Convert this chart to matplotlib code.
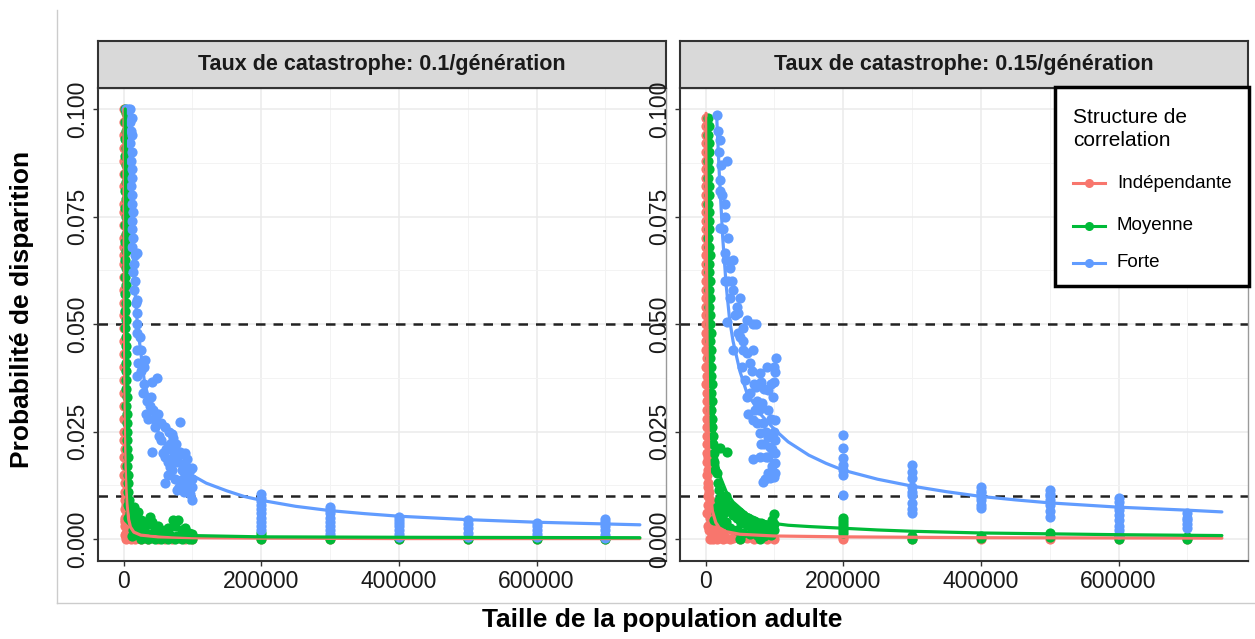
import numpy as np
import matplotlib.pyplot as plt
from matplotlib.lines import Line2D
from matplotlib.patches import Rectangle

plt.rcParams['font.family'] = ['Liberation Sans', 'DejaVu Sans']

# ---------------------------------------------------------------------------
# Données : probabilité de disparition vs taille de la population adulte
# ---------------------------------------------------------------------------
groups = ['Indépendante', 'Moyenne', 'Forte']
colors = ['#F8766D', '#00BA38', '#619CFF']
rates = ['0.1', '0.15']
col_x = [200000, 300000, 400000, 500000, 600000, 700000]

x_ticks = [0, 200000, 400000, 600000]
y_ticks = [0.0, 0.025, 0.05, 0.075, 0.1]
thresholds = [0.05, 0.01]

# --- taux 0.1 -------------------------------------------------------------
p1_red = [
    (800, 0.100), (1200, 0.097), (600, 0.094), (1000, 0.091), (1400, 0.088),
    (700, 0.085), (1100, 0.082), (900, 0.078), (1300, 0.076), (600, 0.073),
    (1000, 0.070), (1200, 0.068), (800, 0.066), (1400, 0.064), (700, 0.061),
    (1100, 0.058), (900, 0.055), (1300, 0.052), (600, 0.049), (1000, 0.046),
    (1200, 0.043), (800, 0.040), (1400, 0.037), (700, 0.034), (1100, 0.031),
    (900, 0.028), (1300, 0.025), (1000, 0.023), (1500, 0.021), (1200, 0.019),
    (1800, 0.017), (1400, 0.015), (2000, 0.013), (1600, 0.011), (2200, 0.009),
    (1800, 0.007), (2500, 0.005), (2000, 0.003), (2800, 0.001),
    (3000, 0.010), (4000, 0.008), (5000, 0.006), (2500, 0.004), (6000, 0.003),
    (8000, 0.002), (10000, 0.0015), (12000, 0.001), (15000, 0.0008),
    (18000, 0.0005), (3000, 0.0015), (5000, 0.0008), (7000, 0.0005),
    (9000, 0.0002), (4000, 0.0), (11000, 0.0), (14000, 0.0003), (17000, 0.0),
    (20000, 0.0002), (2000, 0.0045), (6000, 0.0012),
    (25000, 0.0), (30000, 0.0003), (35000, 0.0), (40000, 0.0002), (50000, 0.0),
    (60000, 0.0001), (70000, 0.0), (80000, 0.0002), (90000, 0.0), (100000, 0.0),
]
p1_red_cols = [[0.0], [0.0], [0.0], [0.0], [0.0], [0.0]]
p1_red_fit = [
    (700, 0.100), (900, 0.080), (1200, 0.060), (1600, 0.045), (2200, 0.032),
    (3000, 0.022), (4000, 0.014), (5500, 0.008), (7500, 0.0045),
    (10000, 0.0028), (15000, 0.0016), (25000, 0.0009), (50000, 0.0005),
    (100000, 0.0003), (200000, 0.0002), (400000, 0.0001), (750000, 0.0001),
]

p1_green = [
    (2000, 0.100), (3000, 0.099), (2500, 0.097), (3500, 0.095), (2000, 0.093),
    (3000, 0.091), (2500, 0.089), (3500, 0.087), (2000, 0.085), (3000, 0.083),
    (2500, 0.081), (3500, 0.079), (2000, 0.077), (3000, 0.075), (2500, 0.073),
    (3500, 0.071), (2500, 0.069), (3000, 0.067), (2000, 0.065), (3500, 0.063),
    (2500, 0.061), (3000, 0.059), (2000, 0.057), (3500, 0.055), (2500, 0.053),
    (3000, 0.051), (2500, 0.049), (3500, 0.047), (3000, 0.045), (4000, 0.043),
    (3000, 0.041), (3500, 0.039), (4000, 0.037), (3500, 0.035), (4500, 0.033),
    (4000, 0.031), (5000, 0.029), (4500, 0.027), (5000, 0.025), (5500, 0.023),
    (5000, 0.021), (6000, 0.019), (5500, 0.017), (6500, 0.015), (6000, 0.013),
    (7000, 0.011), (7500, 0.009), (8000, 0.0075), (9000, 0.006), (6000, 0.008),
    (7000, 0.005), (10000, 0.0045), (12000, 0.0040),
    (15000, 0.0075), (21000, 0.0063), (18000, 0.0050), (25000, 0.0045),
    (30000, 0.0040), (28000, 0.0028), (35000, 0.0035), (39000, 0.0051),
    (42000, 0.0040), (45000, 0.0025), (50000, 0.0030), (55000, 0.0022),
    (60000, 0.0018), (65000, 0.0025), (72000, 0.0044), (79000, 0.0044),
    (75000, 0.0030), (85000, 0.0020), (89000, 0.0026), (95000, 0.0015),
    (100000, 0.0012), (20000, 0.0030), (25000, 0.0020), (32000, 0.0015),
    (40000, 0.0012), (48000, 0.0010), (58000, 0.0008), (68000, 0.0010),
    (78000, 0.0006), (88000, 0.0008), (98000, 0.0005), (14000, 0.0020),
    (16000, 0.0012), (12000, 0.0008), (22000, 0.0010), (25000, 0.0),
    (35000, 0.0), (45000, 0.0), (55000, 0.0), (65000, 0.0), (75000, 0.0),
    (85000, 0.0), (95000, 0.0), (100000, 0.0),
]
p1_green_cols = [[0.0015, 0.0008, 0.0], [0.0005, 0.0], [0.0003, 0.0],
                 [0.0], [0.0], [0.0002, 0.0]]
p1_green_fit = [
    (2500, 0.100), (3000, 0.082), (3500, 0.066), (4000, 0.053), (5000, 0.036),
    (6000, 0.025), (7000, 0.017), (8500, 0.011), (10000, 0.0075),
    (13000, 0.0045), (17000, 0.0030), (25000, 0.0020), (40000, 0.0014),
    (70000, 0.0010), (100000, 0.0008), (200000, 0.0005), (400000, 0.0004),
    (750000, 0.0003),
]

p1_blue = [
    (4000, 0.100), (7000, 0.100), (10000, 0.100), (12000, 0.098), (9000, 0.097),
    (11000, 0.095), (13000, 0.094), (10000, 0.092), (12000, 0.090),
    (11000, 0.088), (13000, 0.086), (12000, 0.084), (11000, 0.082),
    (13000, 0.080), (12000, 0.078), (14000, 0.076), (12000, 0.074),
    (13000, 0.072), (14000, 0.070), (13000, 0.068), (19000, 0.0665),
    (16000, 0.066), (15000, 0.064), (14000, 0.062), (16000, 0.060),
    (15000, 0.058), (20000, 0.0556), (18000, 0.055), (20000, 0.0526),
    (19000, 0.050),
    (20000, 0.048), (20000, 0.044), (21000, 0.041), (31000, 0.0416),
    (20000, 0.038), (48600, 0.0374), (41000, 0.0365), (28000, 0.034),
    (34000, 0.032), (38000, 0.031), (43000, 0.030), (36000, 0.028),
    (46000, 0.0277), (82000, 0.0272), (60000, 0.026), (72000, 0.0235),
    (68000, 0.022), (76000, 0.022), (70000, 0.0245), (72000, 0.0205),
    (42000, 0.0202), (82000, 0.0202), (60000, 0.019), (68000, 0.0167),
    (89000, 0.0177), (100000, 0.0165), (60000, 0.013), (77000, 0.0114),
    (100000, 0.009), (83000, 0.0137), (93000, 0.0144), (100000, 0.012),
    (55000, 0.023), (50000, 0.029), (40000, 0.033), (30000, 0.036),
    (25000, 0.039), (62000, 0.021), (85000, 0.016), (90000, 0.015),
    (95000, 0.013), (78000, 0.018), (65000, 0.015), (88000, 0.011),
    (97000, 0.0105), (92000, 0.0185),
    (45000, 0.026), (52000, 0.024), (58000, 0.020), (64000, 0.018),
    (70000, 0.016), (75000, 0.014), (80000, 0.012), (86000, 0.0135),
    (92000, 0.0125), (96000, 0.016), (100000, 0.014), (90000, 0.020),
    (80000, 0.0195), (74000, 0.019), (66000, 0.025), (55000, 0.027),
    (33000, 0.029), (26000, 0.044), (24000, 0.047), (30000, 0.040),
]
p1_blue_cols = [
    [0.0105, 0.0095, 0.0088, 0.0080, 0.0070, 0.0060, 0.0050, 0.0040, 0.0030, 0.0020],
    [0.0075, 0.0068, 0.0060, 0.0050, 0.0040, 0.0030, 0.0020, 0.0012],
    [0.0052, 0.0045, 0.0038, 0.0030, 0.0020, 0.0012, 0.0005],
    [0.0045, 0.0035, 0.0025, 0.0015, 0.0005],
    [0.0038, 0.0030, 0.0020, 0.0012, 0.0005],
    [0.0046, 0.0040, 0.0030, 0.0020, 0.0010, 0.0002],
]
p1_blue_fit = [
    (8000, 0.100), (10000, 0.085), (15000, 0.062), (20000, 0.050),
    (30000, 0.037), (40000, 0.030), (50000, 0.025), (60000, 0.022),
    (80000, 0.018), (100000, 0.0148), (120000, 0.0130), (150000, 0.0112),
    (175000, 0.0099), (200000, 0.0090), (250000, 0.0076), (300000, 0.0066),
    (350000, 0.0059), (400000, 0.0053), (500000, 0.0045), (600000, 0.0039),
    (700000, 0.0035), (750000, 0.0033),
]

# --- taux 0.15 ------------------------------------------------------------
p2_red = [
    (800, 0.098), (1200, 0.096), (600, 0.094), (1000, 0.092), (1400, 0.090),
    (800, 0.088), (1200, 0.086), (600, 0.084), (1000, 0.082), (1400, 0.080),
    (800, 0.078), (1200, 0.076), (1000, 0.074), (600, 0.072), (1400, 0.070),
    (800, 0.068), (1200, 0.066), (1000, 0.064), (1400, 0.062), (800, 0.060),
    (1200, 0.058), (1000, 0.056), (1400, 0.054), (800, 0.052), (1200, 0.050),
    (1000, 0.048), (1400, 0.046), (1000, 0.044), (1600, 0.042), (1200, 0.040),
    (1800, 0.038), (1400, 0.036), (2000, 0.034), (1600, 0.032), (2200, 0.030),
    (1800, 0.028), (2500, 0.026), (2000, 0.024), (2800, 0.022), (1500, 0.020),
    (3000, 0.019), (2000, 0.018), (3500, 0.016), (2500, 0.015), (4000, 0.013),
    (3000, 0.012), (5000, 0.011), (3500, 0.010), (6000, 0.009), (4000, 0.008),
    (7000, 0.007), (5000, 0.006), (6500, 0.005), (8000, 0.004), (10000, 0.003),
    (6500, 0.0028), (12000, 0.0022), (21000, 0.0030), (26000, 0.0014),
    (2000, 0.006), (3000, 0.003), (5000, 0.002), (9000, 0.0012),
    (14000, 0.0008), (18000, 0.0005), (7000, 0.0), (11000, 0.0), (16000, 0.0),
    (20000, 0.0005), (25000, 0.0), (30000, 0.0003), (35000, 0.0),
    (40000, 0.0002), (50000, 0.0), (60000, 0.0002), (70000, 0.0),
    (80000, 0.0002), (90000, 0.0), (100000, 0.0),
]
p2_red_cols = [[0.0005, 0.0], [0.0], [0.0], [0.0], [0.0], [0.0]]
p2_red_fit = [
    (800, 0.099), (1200, 0.075), (1800, 0.055), (2500, 0.040), (3500, 0.028),
    (5000, 0.018), (7000, 0.011), (10000, 0.0065), (15000, 0.0038),
    (20000, 0.0026), (30000, 0.0017), (50000, 0.0011), (100000, 0.0007),
    (200000, 0.0005), (400000, 0.0003), (750000, 0.0002),
]

p2_green = [
    (4000, 0.098), (5000, 0.096), (3500, 0.094), (4500, 0.092), (5500, 0.090),
    (4000, 0.088), (5000, 0.086), (3500, 0.084), (4500, 0.082), (5500, 0.080),
    (4000, 0.078), (5000, 0.076), (4500, 0.074), (5500, 0.072), (4000, 0.070),
    (5000, 0.068), (6000, 0.066), (4500, 0.064), (5500, 0.062), (6000, 0.060),
    (5000, 0.058), (6500, 0.056), (5500, 0.054), (7000, 0.052), (6000, 0.050),
    (7500, 0.048), (6500, 0.046), (8000, 0.044), (7000, 0.042), (8500, 0.040),
    (7500, 0.038), (9000, 0.036), (8000, 0.034), (9500, 0.032), (8500, 0.030),
    (10000, 0.028), (9000, 0.026), (10500, 0.024), (11000, 0.022),
    (12000, 0.020), (13000, 0.018), (14000, 0.016), (21000, 0.0211),
    (30800, 0.0203),
    (16000, 0.0153), (18000, 0.0130), (20000, 0.0115), (22000, 0.0100),
    (25000, 0.0095), (28000, 0.0085), (30000, 0.0100), (19000, 0.0090),
    (17000, 0.0075), (24000, 0.0070), (27000, 0.0060), (32000, 0.0075),
    (35000, 0.0080), (38000, 0.0065), (40000, 0.0055), (42000, 0.0070),
    (45000, 0.0050), (48000, 0.0062), (50000, 0.0045), (52000, 0.0038),
    (55000, 0.0055), (58000, 0.0040), (60000, 0.0032), (62000, 0.0048),
    (65000, 0.0035), (68000, 0.0028), (70000, 0.0042), (74000, 0.0030),
    (78000, 0.0025), (80000, 0.0038), (85000, 0.0022), (88000, 0.0032),
    (92000, 0.0025), (96000, 0.0045), (100000, 0.0058), (100000, 0.0035),
    (100000, 0.0020), (30000, 0.0040), (35000, 0.0025), (45000, 0.0020),
    (55000, 0.0015), (65000, 0.0012), (75000, 0.0010), (85000, 0.0008),
    (95000, 0.0010), (50000, 0.0), (79000, 0.0), (20000, 0.0050),
    (25000, 0.0035), (15000, 0.0060), (13000, 0.0045),
]
p2_green_cols = [
    [0.0050, 0.0042, 0.0035, 0.0028, 0.0020, 0.0014],
    [0.0008, 0.0], [0.0008, 0.0003], [0.0014, 0.0005], [0.0008, 0.0],
    [0.0005, 0.0],
]
p2_green_fit = [
    (5000, 0.098), (6000, 0.078), (7000, 0.062), (8500, 0.046), (10000, 0.035),
    (12000, 0.027), (15000, 0.020), (20000, 0.0150), (30000, 0.0110),
    (40000, 0.0086), (60000, 0.0058), (80000, 0.0043), (100000, 0.0036),
    (120000, 0.0032), (150000, 0.0029), (200000, 0.0025), (250000, 0.0021),
    (300000, 0.0018), (400000, 0.0014), (500000, 0.0012), (600000, 0.0010),
    (750000, 0.0008),
]

p2_blue = [
    (16000, 0.0986), (21000, 0.0928), (30800, 0.088), (21000, 0.0835),
    (21000, 0.081), (28000, 0.078), (28000, 0.075), (21000, 0.0723),
    (28000, 0.0665), (40000, 0.065), (28000, 0.060), (40000, 0.058),
    (50000, 0.056), (47000, 0.0525), (30800, 0.0505), (60000, 0.051),
    (74000, 0.050), (18000, 0.095), (19000, 0.090), (22000, 0.087),
    (24000, 0.080), (25000, 0.072), (32000, 0.070), (35000, 0.063),
    (38000, 0.060), (45000, 0.054), (55000, 0.049),
    (47000, 0.048), (69000, 0.050), (40000, 0.044), (60000, 0.0432),
    (69000, 0.044), (102000, 0.042), (52600, 0.040), (67000, 0.039),
    (79000, 0.0386), (101000, 0.0389), (57000, 0.037), (74000, 0.0354),
    (91000, 0.0347), (60000, 0.0331), (82000, 0.0316), (91000, 0.030),
    (69000, 0.0277), (84000, 0.027), (101000, 0.0277), (79000, 0.0246),
    (91000, 0.0238), (101000, 0.023), (94000, 0.0215), (79000, 0.0191),
    (91000, 0.0191), (101000, 0.020), (101000, 0.0177), (91000, 0.0153),
    (94000, 0.0143), (101000, 0.0153), (83000, 0.0133), (99000, 0.0145),
    (69000, 0.0186), (99000, 0.040), (80000, 0.0366), (99000, 0.0366),
    (55000, 0.046), (65000, 0.041), (75000, 0.032), (88000, 0.025),
    (95000, 0.028), (85000, 0.022), (98000, 0.033), (72000, 0.030),
    (85000, 0.035), (90000, 0.040), (95000, 0.036), (70000, 0.036),
    (65000, 0.034), (62000, 0.029), (75000, 0.027), (80000, 0.022),
    (88000, 0.019), (96000, 0.017), (86000, 0.014), (78000, 0.030),
    (100000, 0.025), (97000, 0.021), (54000, 0.044), (50000, 0.047),
    (43000, 0.052), (36000, 0.056), (33000, 0.060), (30000, 0.065),
]
p2_blue_cols = [
    [0.0242, 0.0211, 0.0188, 0.0172, 0.0160, 0.0149, 0.0102],
    [0.0172, 0.0155, 0.0141, 0.0122, 0.0110, 0.0102, 0.0083, 0.0070, 0.0060],
    [0.0122, 0.0112, 0.0106, 0.0098, 0.0091, 0.0080, 0.0071],
    [0.0114, 0.0105, 0.0099, 0.0090, 0.0079, 0.0065, 0.0052],
    [0.0095, 0.0085, 0.0075, 0.0067, 0.0055, 0.0044, 0.0030, 0.0021, 0.0012],
    [0.0060, 0.0050, 0.0044, 0.0035, 0.0025],
]
p2_blue_fit = [
    (16000, 0.099), (20000, 0.085), (25000, 0.070), (30000, 0.059),
    (35000, 0.051), (40000, 0.046), (50000, 0.039), (60000, 0.034),
    (80000, 0.029), (100000, 0.0255), (120000, 0.0226), (150000, 0.0195),
    (175000, 0.0176), (200000, 0.0160), (250000, 0.0139), (300000, 0.0123),
    (350000, 0.0110), (400000, 0.0099), (450000, 0.0091), (500000, 0.0084),
    (600000, 0.0074), (700000, 0.0067), (750000, 0.0063),
]

panel_data = [
    [(p1_red, p1_red_cols, p1_red_fit),
     (p1_green, p1_green_cols, p1_green_fit),
     (p1_blue, p1_blue_cols, p1_blue_fit)],
    [(p2_red, p2_red_cols, p2_red_fit),
     (p2_green, p2_green_cols, p2_green_fit),
     (p2_blue, p2_blue_cols, p2_blue_fit)],
]

# ---------------------------------------------------------------------------
# Mise en page (en pixels, origine en haut à gauche)
# ---------------------------------------------------------------------------
W, H = 1255, 639
fig = plt.figure(figsize=(W / 100, H / 100), dpi=100)
fig.patch.set_facecolor('white')


def box(x0, y0, x1, y1):
    return [x0 / W, 1 - y1 / H, (x1 - x0) / W, (y1 - y0) / H]


def px(x, y):
    return x / W, 1 - y / H


panel_lr = [(97.7, 665.7), (679.7, 1247.7)]
top, bottom, strip_top = 87.5, 560.5, 41
marker_s = 54

for (left, right), rate, series in zip(panel_lr, rates, panel_data):
    ax = fig.add_axes(box(left, top, right, bottom))
    ax.set_facecolor('white')
    ax.set_xlim(-37500, 787500)
    ax.set_ylim(-0.005, 0.105)

    ax.set_xticks(x_ticks)
    ax.set_xticklabels([f'{v:d}' for v in x_ticks])
    ax.set_xticks([100000, 300000, 500000, 700000], minor=True)
    ax.set_yticks(y_ticks)
    ax.set_yticklabels([f'{v:.3f}' for v in y_ticks], rotation=90, va='center')
    ax.set_yticks([0.0125, 0.0375, 0.0625, 0.0875], minor=True)
    ax.grid(which='major', color='#EBEBEB', lw=1.1, zorder=0)
    ax.grid(which='minor', color='#F3F3F3', lw=0.7, zorder=0)
    ax.set_axisbelow(True)
    ax.tick_params(which='major', length=3.5, width=1.0, color='#333333',
                   labelsize=16.5, labelcolor='#1a1a1a', pad=3)
    ax.tick_params(which='minor', length=0)

    for side in ['top', 'right']:
        ax.spines[side].set_color('#9a9a9a')
        ax.spines[side].set_linewidth(1.0)
    for side in ['left', 'bottom']:
        ax.spines[side].set_color('#333333')
        ax.spines[side].set_linewidth(1.5)

    for thr in thresholds:
        ax.axhline(thr, color='#222222', lw=1.8, ls=(0, (3.8, 3.2)), zorder=1.5)

    # points d'abord, puis les courbes ajustées par-dessus
    for (pts, cols, fit), c in zip(series, colors):
        pts = np.array(pts)
        ax.scatter(pts[:, 0], pts[:, 1], s=marker_s, color=c, linewidths=0,
                   zorder=2)
        for cx, ys in zip(col_x, cols):
            ax.scatter([cx] * len(ys), ys, s=marker_s, color=c, linewidths=0,
                       zorder=2)
    for (pts, cols, fit), c in zip(series, colors):
        fit = np.array(fit)
        ax.plot(fit[:, 0], fit[:, 1], color=c, lw=2.3, zorder=3,
                solid_capstyle='round', solid_joinstyle='round')

    # bandeau du facet
    sax = fig.add_axes(box(left, strip_top, right, top))
    sax.set_facecolor('#D9D9D9')
    sax.set_xticks([])
    sax.set_yticks([])
    for sp in sax.spines.values():
        sp.set_color('#333333')
        sp.set_linewidth(1.5)
    sax.text(0.5, 0.5, f'Taux de catastrophe: {rate}/génération',
             ha='center', va='center', fontsize=15.5, fontweight='bold',
             color='#1a1a1a', transform=sax.transAxes)

# titres des axes
fig.text(*px(22, 309), 'Probabilité de disparition', rotation=90,
         ha='center', va='center', fontsize=19, fontweight='bold')
fig.text(*px(662, 620), 'Taille de la population adulte',
         ha='center', va='center', fontsize=19, fontweight='bold')

# cadre extérieur clair
fig.add_artist(Line2D([57 / W, 57 / W], [1 - 10 / H, 1 - 603 / H],
                      transform=fig.transFigure, color='#CCCCCC', lw=1.0))
fig.add_artist(Line2D([57 / W, 1], [1 - 603 / H, 1 - 603 / H],
                      transform=fig.transFigure, color='#CCCCCC', lw=1.0))

# légende
lx0, ly0, lx1, ly1 = 1055, 87, 1249, 286
fig.add_artist(Rectangle(px(lx0, ly1), (lx1 - lx0) / W, (ly1 - ly0) / H,
                         transform=fig.transFigure, facecolor='white',
                         edgecolor='black', lw=2.5, zorder=10))
fig.text(*px(1073, 129), 'Structure de\ncorrelation', ha='left', va='center',
         fontsize=15, linespacing=1.3, zorder=11)
for label, c, yy in zip(groups, colors, [183, 226, 263]):
    fig.add_artist(Line2D([1073 / W, 1105 / W], [1 - yy / H] * 2,
                          transform=fig.transFigure, color=c, lw=2.2,
                          zorder=11))
    fig.add_artist(Line2D([1089 / W], [1 - yy / H], transform=fig.transFigure,
                          marker='o', ms=6.5, color=c, mew=0, zorder=12))
    fig.text(*px(1117, yy), label, ha='left', va='center', fontsize=13.5,
             zorder=11)

fig.savefig('out.png', dpi=100, facecolor='white')
